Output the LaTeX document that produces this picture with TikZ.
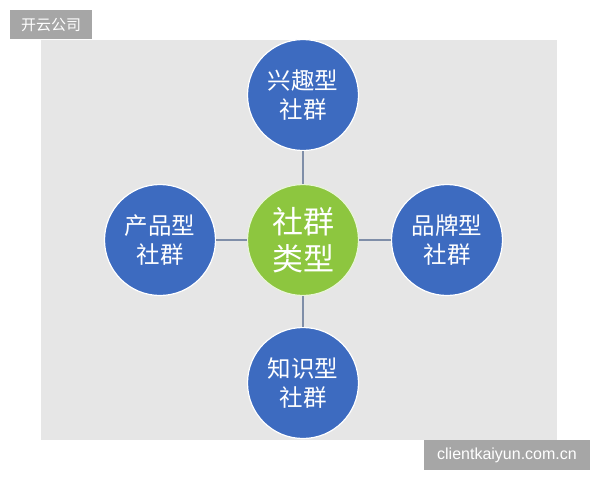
\documentclass[tikz,border=0pt]{standalone}
\usepackage{fontspec}
\setmainfont{Liberation Sans}
\newfontfamily\cjk{Noto Sans CJK SC}
\usepackage{xcolor}
\usetikzlibrary{positioning}
\definecolor{sqPanel}{HTML}{E6E6E6}
\definecolor{sqTag}{HTML}{A6A6A6}
\definecolor{sqBlue}{HTML}{3D6BC0}
\definecolor{sqGreen}{HTML}{8DC63F}
\definecolor{sqLine}{HTML}{7F8EA8}

\begin{document}
\begin{tikzpicture}[x=1pt,y=-1pt,
    kind/.style={circle,draw=white,line width=1.2pt,fill=sqBlue,minimum size=111pt,inner sep=0pt,
                 text=white,font=\cjk\fontsize{23.5}{29}\selectfont,align=center},
    hub/.style={kind,fill=sqGreen,draw=white!80!sqGreen,font=\cjk\fontsize{31}{37}\selectfont},
    tag/.style={fill=sqTag,text=white,inner sep=0pt,minimum height=29pt},
    link/.style={draw=sqLine,line width=1.4pt}]
    \useasboundingbox (0,0) rectangle (600,480);
    \fill[white] (0,0) rectangle (600,480);
    \fill[sqPanel] (41,40) rectangle (557,440);
    % circles
    \node[hub]  (hub)   at (303,240) {社群\\类型};
    \node[kind] (hobby) at (303,95)  {兴趣型\\社群};
    \node[kind] (prod)  at (160,240) {产品型\\社群};
    \node[kind] (brand) at (447,240) {品牌型\\社群};
    \node[kind] (know)  at (303,383) {知识型\\社群};
    \draw[link] (hub) -- (hobby);
    \draw[link] (hub) -- (prod);
    \draw[link] (hub) -- (brand);
    \draw[link] (hub) -- (know);
    % corner tags
    \node[tag,minimum width=82pt,font=\cjk\fontsize{15}{18}\selectfont] (top) at (51,24.5) {开云公司};
    \node[tag,minimum width=166pt,minimum height=30pt,font=\fontsize{16}{19}\selectfont] (site) at (507,455) {clientkaiyun.com.cn};
\end{tikzpicture}
\end{document}
